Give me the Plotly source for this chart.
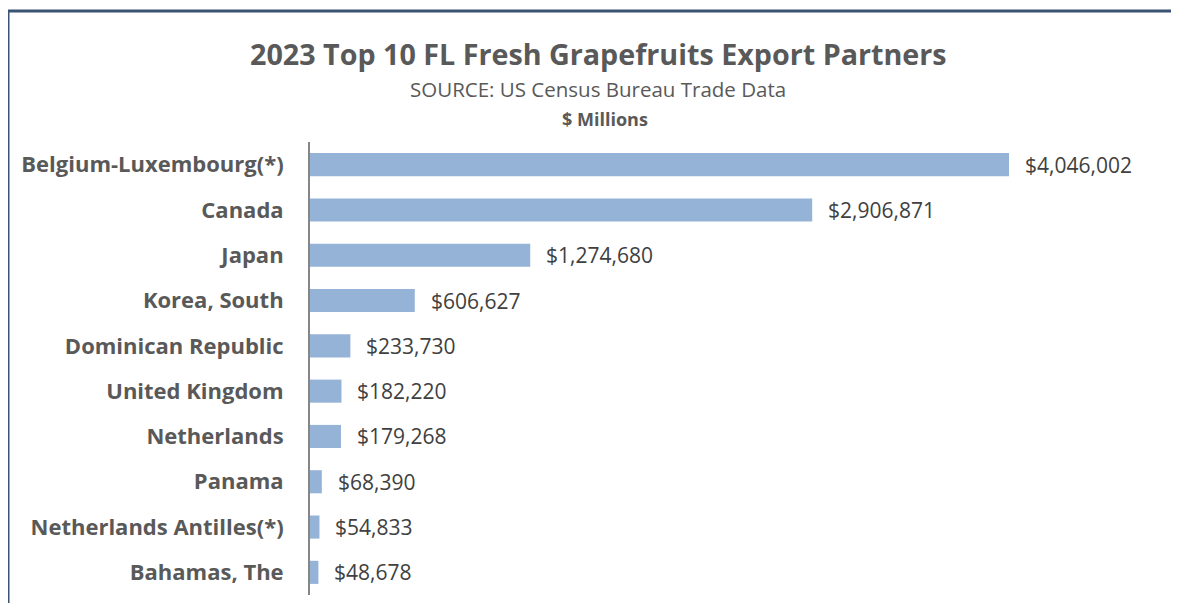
import plotly.graph_objects as go

countries = ["Belgium-Luxembourg(*)", "Canada", "Japan", "Korea, South",
             "Dominican Republic", "United Kingdom", "Netherlands", "Panama",
             "Netherlands Antilles(*)", "Bahamas, The"]
values = [4046002, 2906871, 1274680, 606627, 233730,
          182220, 179268, 68390, 54833, 48678]

FONT = "Open Sans"
W, H = 1179, 603
OFF = 8  # page body margin
L, R, T, B = 310 - OFF, 19 + OFF, 142 - OFF, 8 + OFF
pw, ph = W - L - R, H - T - B


def px_x(x):
    return (x - OFF - L) / pw


def px_y(y):
    return (H - B - (y - OFF)) / ph


fig = go.Figure(go.Bar(
    x=values,
    y=countries,
    orientation="h",
    marker=dict(color="#95b3d7", line=dict(width=0)),
    width=0.51,
))

for c, v in zip(countries, values):
    fig.add_annotation(x=v, y=c, text=f"${v:,}", showarrow=False,
                       xanchor="left", xshift=14,
                       font=dict(family=FONT, size=21, color="#404040"))


def header(x, y, text, size):
    fig.add_annotation(x=px_x(x), y=px_y(y), xref="paper", yref="paper",
                       xanchor="center", yanchor="middle", text=text,
                       showarrow=False, font=dict(family=FONT, size=size, color="#595959"))


header(598, 54, "<b>2023 Top 10 FL Fresh Grapefruits Export Partners</b>", 28.7)
header(598, 89, "SOURCE: US Census Bureau Trade Data", 20.5)
header(605, 119, "<b>$ Millions</b>", 18)

# chart frame
frame = "#3a5273"
fig.add_shape(type="line", xref="paper", yref="paper",
              x0=px_x(8), x1=px_x(1200), y0=px_y(11), y1=px_y(11),
              line=dict(color=frame, width=3))
fig.add_shape(type="line", xref="paper", yref="paper",
              x0=px_x(8), x1=px_x(8), y0=px_y(11), y1=px_y(620),
              line=dict(color=frame, width=3))

fig.update_layout(
    width=W, height=H,
    margin=dict(l=L, r=R, t=T, b=B),
    plot_bgcolor="white", paper_bgcolor="white",
    showlegend=False,
    xaxis=dict(range=[0, 4920000], visible=False),
    yaxis=dict(autorange="reversed", showline=True, linecolor="#868686",
               linewidth=2, ticks="", ticklabelstandoff=20,
               tickfont=dict(family=FONT, size=22, color="#595959", weight="bold")),
)

fig.write_html("out.html")
